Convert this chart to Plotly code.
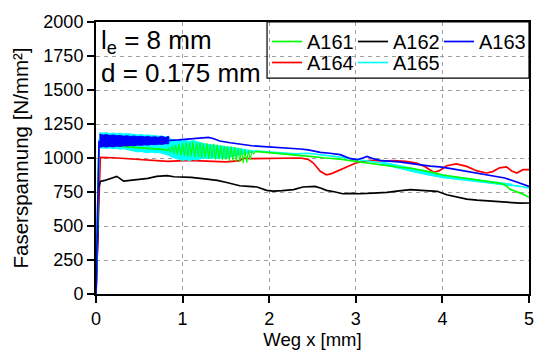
import plotly.graph_objects as go

# ---------------- data ----------------
names = ["A161", "A162", "A163", "A164", "A165"]

# A162 (black)
x_a162 = [0, 0.02, 0.03, 0.05, 0.1, 0.18, 0.24, 0.32, 0.4, 0.51, 0.6, 0.7, 0.82, 0.9, 1.0,
          1.1, 1.28, 1.4, 1.51, 1.66, 1.76, 1.86, 1.97, 2.05, 2.15, 2.28, 2.39, 2.53, 2.6, 2.66,
          2.75, 2.85, 2.95, 3.05, 3.2, 3.36, 3.5, 3.63, 3.8, 3.94, 4.05, 4.15, 4.28, 4.4, 4.59,
          4.7, 4.82, 4.9, 5.0]
y_a162 = [0, 400, 780, 828, 835, 850, 865, 830, 835, 840, 850, 865, 870, 862, 860,
          858, 845, 835, 820, 796, 792, 787, 762, 757, 760, 767, 787, 791, 778, 762,
          752, 737, 740, 737, 742, 747, 758, 767, 760, 755, 730, 715, 698, 690, 681,
          676, 673, 668, 669]

# A164 (red)
x_a164 = [0, 0.02, 0.03, 0.05, 0.2, 0.49, 0.83, 1.06, 1.3, 1.5, 1.66, 1.7, 1.8, 2.0, 2.2,
          2.36, 2.45, 2.51, 2.59, 2.66, 2.72, 2.78, 2.9, 3.0, 3.16, 3.3, 3.43, 3.58, 3.7, 3.8,
          3.9, 3.96, 4.05, 4.16, 4.28, 4.4, 4.51, 4.58, 4.66, 4.74, 4.8, 4.86, 4.93, 5.0]
y_a164 = [0, 450, 520, 1005, 1002, 992, 975, 982, 975, 972, 980, 998, 995, 998, 1002,
          1000, 990, 963, 902, 877, 885, 902, 938, 963, 982, 978, 980, 975, 963, 935,
          895, 905, 943, 956, 938, 905, 890, 900, 928, 935, 905, 890, 914, 915]

# A165 (cyan) mean curve
x_a165 = [0, 0.02, 0.035, 0.1, 0.4, 0.8, 1.2, 1.6, 1.85, 2.0, 2.15, 2.3, 2.45, 2.55, 2.7,
          2.82, 3.0, 3.15, 3.3, 3.45, 3.6, 3.75, 3.9, 4.05, 4.2, 4.35, 4.5, 4.65, 4.8, 4.9, 5.0]
y_a165 = [0, 550, 1130, 1125, 1110, 1095, 1050, 1045, 1050, 1045, 1040, 1030, 1035, 1025, 1015,
          1007, 992, 980, 963, 935, 912, 888, 872, 857, 848, 836, 828, 815, 804, 792, 779]
# A165 scatter band (upper / lower envelope of the noisy signal)
x_a165_band = [0.04, 0.08, 0.12, 0.16, 0.20, 0.24, 0.28, 0.32, 0.36, 0.40,
               0.44, 0.48, 0.52, 0.56, 0.60, 0.64, 0.68, 0.72, 0.76, 0.80, 0.84,
               0.88, 0.92, 0.96, 1.00, 1.04, 1.08, 1.12, 1.16, 1.20,
               1.24, 1.28, 1.32, 1.36, 1.40, 1.44, 1.48, 1.52, 1.56, 1.60,
               1.64, 1.68, 1.72, 1.76, 1.80]
hi_a165_band = [1188, 1182, 1186, 1180, 1184, 1178, 1182, 1176, 1180, 1176,
                1174, 1170, 1172, 1168, 1170, 1165, 1166, 1160, 1162, 1155, 1150,
                1135, 1128, 1132, 1125, 1130, 1122, 1128, 1120, 1115,
                1105, 1100, 1098, 1095, 1092, 1088, 1085, 1082, 1080, 1075,
                1070, 1068, 1062, 1058, 1052]
lo_a165_band = [1075, 1072, 1070, 1074, 1068, 1070, 1065, 1068, 1060, 1055,
                1050, 1045, 1048, 1042, 1040, 1044, 1038, 1040, 1035, 1030, 1020,
                1005, 995, 990, 982, 988, 980, 990, 985, 995,
                1000, 995, 998, 1000, 995, 1002, 998, 1005, 1008, 1012,
                1020, 1025, 1030, 1035, 1045]
x_a165_band2 = [3.3, 3.4, 3.5, 3.6, 3.7, 3.8, 3.9, 4.0, 4.1, 4.2, 4.3, 4.4, 4.5, 4.6, 4.7, 4.8]
hi_a165_band2 = [972, 960, 945, 932, 915, 902, 890, 877, 866, 858, 850, 842, 835, 828, 818, 808]
lo_a165_band2 = [955, 940, 925, 910, 895, 880, 868, 855, 848, 840, 832, 825, 818, 810, 800, 795]

# A161 (green); None marks where the noisy part is drawn separately
x_a161 = [0, 0.02, 0.035, 0.05, 0.2, 0.4, 0.55, 0.7, 0.8, 0.82, None, 1.84,
          1.9, 2.0, 2.13, 2.24, 2.36, 2.5, 2.65, 2.82, 3.0, 3.15, 3.28, 3.4, 3.5, 3.63,
          3.75, 3.86, 4.0, 4.15, 4.28, 4.4, 4.55, 4.65, 4.72, 4.75, 4.78, 4.9, 5.0]
y_a161 = [0, 600, 1100, 1100, 1095, 1080, 1072, 1065, 1062, 1052, None, 1048,
          1045, 1040, 1033, 1024, 1018, 1010, 1000, 992, 975, 962, 951, 940, 932, 926,
          912, 898, 875, 862, 850, 840, 828, 815, 805, 785, 770, 742, 712]
# A161 noisy part (raw oscillating signal)
x_a161_noise = [0.82, 0.84, 0.86, 0.88, 0.90, 0.92, 0.94, 0.96, 0.98, 1.00,
                1.02, 1.04, 1.06, 1.08, 1.10, 1.12, 1.14, 1.16, 1.18, 1.20,
                1.22, 1.24, 1.26, 1.28, 1.30, 1.32, 1.34, 1.36, 1.38, 1.40,
                1.42, 1.44, 1.46, 1.48, 1.50, 1.52, 1.54, 1.56, 1.58, 1.60,
                1.62, 1.64, 1.66, 1.68, 1.70, 1.72, 1.74, 1.76, 1.78, 1.80, 1.82, 1.84]
y_a161_noise = [1052, 1075, 1040, 1090, 1032, 1096, 1025, 1104, 1018, 1108,
                1015, 1115, 1010, 1118, 1012, 1120, 1005, 1112, 1008, 1115,
                1000, 1108, 1002, 1110, 995, 1100, 998, 1105, 990, 1098,
                992, 1095, 985, 1090, 988, 1088, 980, 1085, 982, 1080,
                975, 1075, 970, 1068, 962, 1062, 965, 1058, 985, 1052, 1030, 1048]

# A163 (blue) mean curve
x_a163 = [0, 0.02, 0.035, 0.1, 0.4, 0.84,
          0.86, 0.95, 1.05, 1.15, 1.25, 1.3, 1.36, 1.43, 1.55, 1.67, 1.8, 1.9, 2.0, 2.13,
          2.24, 2.36, 2.45, 2.59, 2.7, 2.82, 2.94, 3.02, 3.08, 3.13, 3.2, 3.3, 3.5, 3.63,
          3.75, 3.86, 3.97, 4.1, 4.28, 4.4, 4.55, 4.72, 4.85, 5.0]
y_a163 = [0, 600, 1120, 1125, 1125, 1130,
          1130, 1133, 1138, 1142, 1148, 1152, 1142, 1125, 1112, 1100, 1090, 1085, 1082, 1076,
          1074, 1066, 1060, 1042, 1035, 1025, 995, 988, 1000, 1012, 995, 980, 972, 963,
          950, 940, 935, 922, 902, 890, 875, 853, 825, 791]
# A163 scatter band
x_a163_band = [0.04, 0.08, 0.12, 0.16, 0.20, 0.24, 0.28, 0.32, 0.36, 0.40, 0.44,
               0.48, 0.52, 0.56, 0.60, 0.64, 0.68, 0.72, 0.76, 0.80, 0.84]
hi_a163_band = [1175, 1168, 1172, 1165, 1170, 1163, 1166, 1160, 1164, 1158, 1162,
                1156, 1160, 1155, 1158, 1153, 1156, 1152, 1160, 1150, 1160]
lo_a163_band = [1078, 1085, 1080, 1086, 1082, 1088, 1085, 1090, 1088, 1092, 1090,
                1095, 1093, 1097, 1095, 1100, 1098, 1102, 1100, 1105, 1105]

colors = {"A161": "#00ff00", "A162": "#000000", "A163": "#0000ff",
          "A164": "#ff0000", "A165": "#00ffff"}

series = {
    "A161": (x_a161, y_a161),
    "A162": (x_a162, y_a162),
    "A163": (x_a163, y_a163),
    "A164": (x_a164, y_a164),
    "A165": (x_a165, y_a165),
}
bands = {
    "A165": [(x_a165_band, hi_a165_band, lo_a165_band),
             (x_a165_band2, hi_a165_band2, lo_a165_band2)],
    "A163": [(x_a163_band, hi_a163_band, lo_a163_band)],
}
noise = {"A161": (x_a161_noise, y_a161_noise)}
draw_order = ["A164", "A162", "A165", "A161", "A163"]
legend_of = {"A161": "legend", "A162": "legend", "A163": "legend",
             "A164": "legend2", "A165": "legend2"}
rank = {n: i + 1 for i, n in enumerate(names)}

FONT = "Arial, 'Liberation Sans', sans-serif"

fig = go.Figure()
for n in draw_order:
    for bx, bhi, blo in bands.get(n, []):
        fig.add_trace(go.Scatter(
            x=list(bx) + list(bx)[::-1], y=list(bhi) + list(blo)[::-1],
            mode="lines", fill="toself", fillcolor=colors[n],
            line=dict(color=colors[n], width=1), showlegend=False,
            hoverinfo="skip", legend=legend_of[n],
        ))
    if n in noise:
        nx, ny = noise[n]
        fig.add_trace(go.Scatter(
            x=nx, y=ny, mode="lines", line=dict(color=colors[n], width=1.1),
            showlegend=False, hoverinfo="skip", legend=legend_of[n],
        ))
    xs, ys = series[n]
    fig.add_trace(go.Scatter(
        x=xs, y=ys, mode="lines", name=n,
        line=dict(color=colors[n], width=1.7),
        legend=legend_of[n], legendrank=rank[n],
    ))

axis_common = dict(
    showline=True, linecolor="black", linewidth=2, mirror=True,
    ticks="outside", ticklen=7, tickwidth=1.5, tickcolor="black",
    showgrid=True, gridcolor="#a0a0a0", gridwidth=1, griddash="4px,4px",
    zeroline=False, tickfont=dict(size=18, color="black", family=FONT),
)

legend_common = dict(
    orientation="h", xanchor="left", yanchor="top",
    xref="container", yref="container",
    bgcolor="rgba(0,0,0,0)", borderwidth=0, font=dict(size=20),
    entrywidth=41, entrywidthmode="pixels", tracegroupgap=0, itemclick=False,
)

fig.update_layout(
    width=538, height=356,
    margin=dict(l=96, r=9, t=22, b=62, autoexpand=False),
    paper_bgcolor="white", plot_bgcolor="white",
    font=dict(family=FONT, color="black"),
    showlegend=True,
    xaxis=dict(range=[0, 5], tick0=0, dtick=1,
               title=dict(text="Weg x [mm]", font=dict(size=18.5), standoff=5),
               **axis_common),
    yaxis=dict(range=[0, 2000], tick0=0, dtick=250,
               title=dict(text="Faserspannung [N/mm²]", font=dict(size=20.5), standoff=9),
               **axis_common),
    legend=dict(x=0.4963, y=0.9382, **legend_common),
    legend2=dict(x=0.4963, y=0.8792, **legend_common),
    shapes=[dict(type="rect", xref="paper", yref="paper",
                 x0=0.395, x1=1.0, y0=0.794, y1=1.0,
                 line=dict(color="black", width=1.2))],
    annotations=[
        dict(text="l<sub>e</sub> = 8 mm", xref="paper", yref="paper",
             x=0.008, y=0.997, xanchor="left", yanchor="top", showarrow=False,
             font=dict(size=26)),
        dict(text="d = 0.175 mm", xref="paper", yref="paper",
             x=0.008, y=0.875, xanchor="left", yanchor="top", showarrow=False,
             font=dict(size=26)),
    ],
)

# remove the browser's default 8 px body margin so the figure fills the window
fig.write_html("out.html", config={"displayModeBar": False},
               post_script="document.body.style.margin='0';document.body.style.overflow='hidden';")
